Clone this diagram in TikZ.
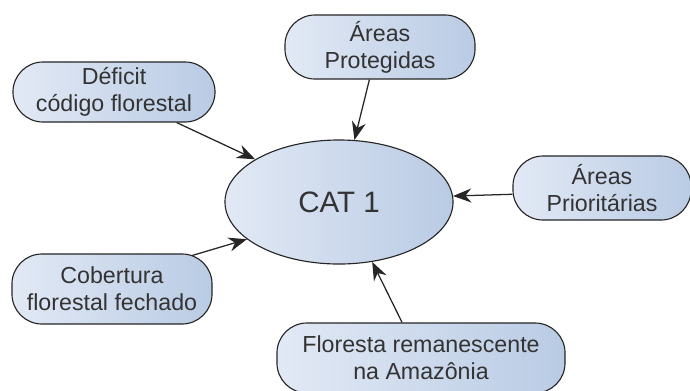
\documentclass[tikz,border=0pt]{standalone}
\usepackage{fontspec}
\setmainfont{Liberation Sans}
\usetikzlibrary{shapes.geometric,arrows.meta}
\definecolor{txt}{rgb}{0.2,0.2,0.2}
\definecolor{lblue}{RGB}{226,233,245}
\definecolor{dblue}{RGB}{185,203,228}

\begin{document}
\begin{tikzpicture}[x=0.025cm,y=-0.025cm,
  box/.style={draw=black!85, line width=0.8pt, rounded corners=0.75cm,
    left color=lblue, right color=dblue, text=txt, align=center,
    inner sep=0pt, font=\fontsize{16.5}{19}\selectfont},
  cat/.style={ellipse, draw=black!85, line width=0.8pt, left color=lblue,
    right color=dblue, text=txt, inner sep=0pt, minimum width=5.7cm,
    minimum height=3.1cm, font=\fontsize{21}{25}\selectfont},
  arr/.style={-{Stealth[length=13pt,width=10pt]}, line width=0.9pt, black!85}]

\useasboundingbox (0,0) rectangle (690,390);

\node[cat] (cat1) at (339,202) {CAT 1};

\node[box, minimum width=5.05cm, minimum height=1.5cm] (deficit) at (114,92) {D\'eficit\\c\'odigo florestal};
\node[box, minimum width=4.75cm, minimum height=1.6cm] (protegidas) at (380,47) {\'Areas\\Protegidas};
\node[box, minimum width=4.45cm, minimum height=1.6cm] (prioritarias) at (602,188) {\'Areas\\Priorit\'arias};
\node[box, minimum width=5.0cm, minimum height=1.75cm] (cobertura) at (112,289) {Cobertura\\florestal fechado};
\node[box, minimum width=7.2cm, minimum height=1.75cm] (floresta) at (421,358) {Floresta remanescente\\na Amaz\^onia};

\draw[arr] (deficit.-26) -- (cat1.153);
\draw[arr] (protegidas.-108) -- (cat1.76);
\draw[arr] (prioritarias.184) -- (cat1.3.5);
\draw[arr] ([xshift=2cm,yshift=-1.5pt]cobertura.north) -- (cat1.202);
\draw[arr] (floresta.118) -- (cat1.-61);
\end{tikzpicture}
\end{document}
